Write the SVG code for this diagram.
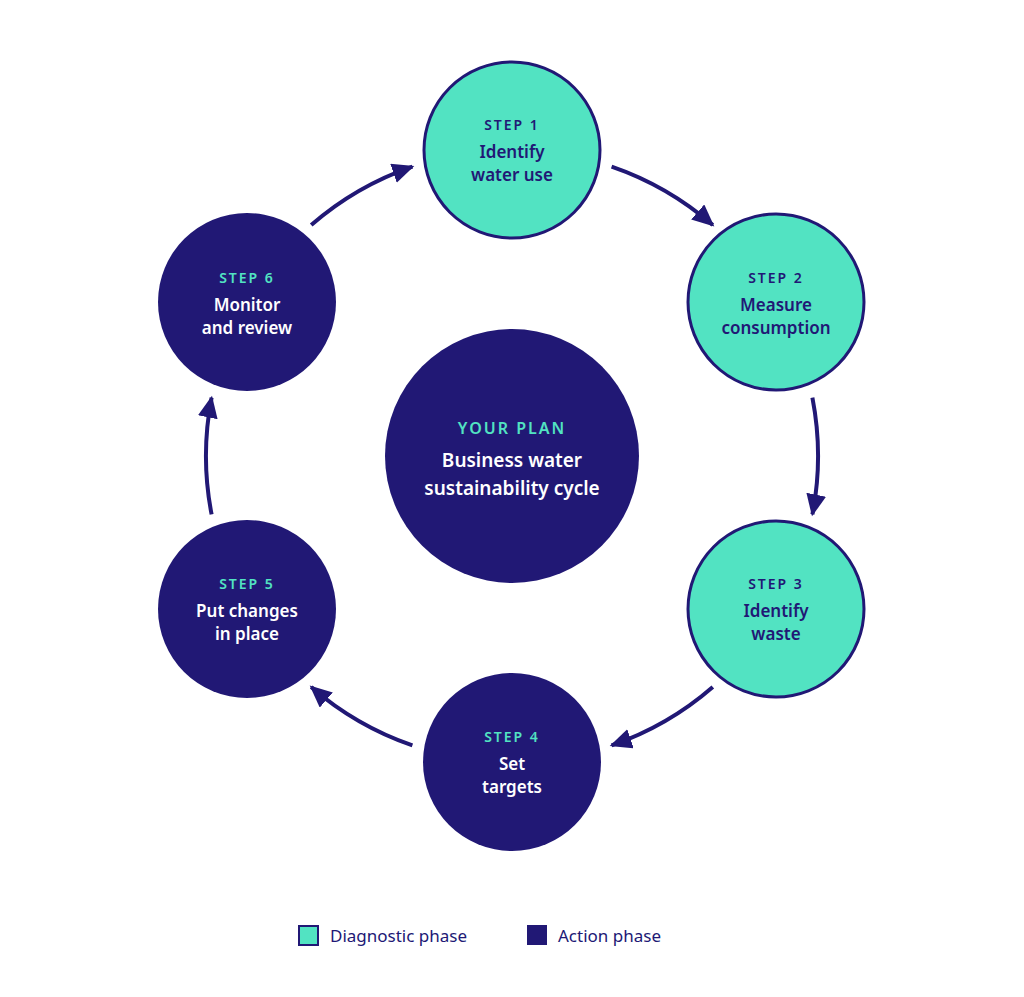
<svg xmlns="http://www.w3.org/2000/svg" width="1024" height="997" viewBox="0 0 1024 997">
<style>
text{font-family:"Noto Sans","Open Sans",sans-serif;text-anchor:middle}
.d circle{fill:#52E3C2;stroke:#211875;stroke-width:3}
.a circle{fill:#211875}
.d .s{fill:#211875}.a .s{fill:#52E3C2}
.s{font-size:14px;font-weight:600;letter-spacing:2px}
.t{font-size:17px;font-weight:600}
.d .t{fill:#211875}.a .t{fill:#fff}
.c path{fill:none;stroke:#211875;stroke-width:4;marker-end:url(#ah)}
.lg{font-size:17px;fill:#211875;text-anchor:start}
</style>
<defs><marker id="ah" markerUnits="userSpaceOnUse" markerWidth="24" markerHeight="22" refX="20" refY="10" orient="auto"><path d="M0,0 L22,10 L0,20 Z" fill="#211875"/></marker></defs>
<rect width="1024" height="997" fill="#fff"/>
<g class="c">
<path d="M611.6,166.7 A306,306 0 0 1 712.8,225.1"/>
<path d="M812.4,397.6 A306,306 0 0 1 812.4,514.4"/>
<path d="M712.8,686.9 A306,306 0 0 1 611.6,745.3"/>
<path d="M412.4,745.3 A306,306 0 0 1 311.2,686.9"/>
<path d="M211.6,514.4 A306,306 0 0 1 211.6,397.6"/>
<path d="M311.2,225.1 A306,306 0 0 1 412.4,166.7"/>
</g>
<g id="center" class="a"><circle cx="512" cy="456" r="127"/><text class="s" x="512" y="434" style="font-size:16px">YOUR PLAN</text><text class="t" x="512" y="467" style="font-size:19px">Business water</text><text class="t" x="512" y="495" style="font-size:19px">sustainability cycle</text></g>
<g id="step1" class="d"><circle cx="512" cy="150" r="88"/><text class="s" x="512" y="130">STEP 1</text><text class="t" x="512" y="158">Identify</text><text class="t" x="512" y="181">water use</text></g>
<g id="step2" class="d"><circle cx="776" cy="302" r="88"/><text class="s" x="776" y="283">STEP 2</text><text class="t" x="776" y="311">Measure</text><text class="t" x="776" y="334">consumption</text></g>
<g id="step3" class="d"><circle cx="776" cy="609" r="88"/><text class="s" x="776" y="589">STEP 3</text><text class="t" x="776" y="617">Identify</text><text class="t" x="776" y="640">waste</text></g>
<g id="step4" class="a"><circle cx="512" cy="762" r="89"/><text class="s" x="512" y="742">STEP 4</text><text class="t" x="512" y="770">Set</text><text class="t" x="512" y="793">targets</text></g>
<g id="step5" class="a"><circle cx="247" cy="609" r="89"/><text class="s" x="247" y="589">STEP 5</text><text class="t" x="247" y="617">Put changes</text><text class="t" x="247" y="640">in place</text></g>
<g id="step6" class="a"><circle cx="247" cy="302" r="89"/><text class="s" x="247" y="283">STEP 6</text><text class="t" x="247" y="311">Monitor</text><text class="t" x="247" y="334">and review</text></g>
<g id="legend">
<rect x="299" y="926" width="19" height="19" fill="#52E3C2" stroke="#211875" stroke-width="2"/>
<text class="lg" x="330" y="942">Diagnostic phase</text>
<rect x="527" y="925" width="20" height="20" fill="#211875"/>
<text class="lg" x="558" y="942">Action phase</text>
</g>
</svg>
